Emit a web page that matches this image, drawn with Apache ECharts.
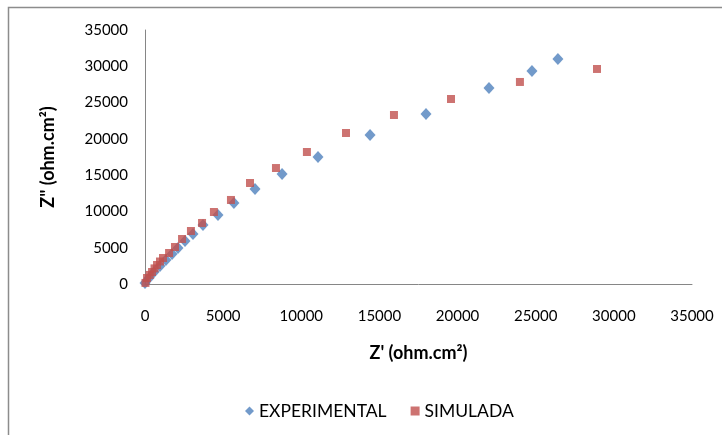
<!DOCTYPE html>
<html>
<head>
<meta charset="utf-8">
<script src="https://cdn.jsdelivr.net/npm/echarts@6/dist/echarts.min.js"></script>
<style>
  html, body { margin: 0; padding: 0; background: #fff; }
  #chart { width: 722px; height: 435px; }
</style>
</head>
<body>
<div id="chart"></div>
<script>
// Nyquist plot: Z' vs Z'' (ohm.cm²)
const experimentalZre = [0, 260, 580, 960, 1340, 1730, 2110, 2560, 3070, 3710, 4670, 5690, 7040, 8770, 11070, 14400, 17980, 22010, 24760, 26420];
const experimentalZim = [140, 830, 1650, 2480, 3310, 4130, 4960, 5930, 6890, 8130, 9510, 11160, 13090, 15160, 17500, 20530, 23430, 27010, 29350, 31000];

const simuladaZre = [30, 130, 300, 450, 610, 770, 960, 1150, 1540, 1920, 2370, 2940, 3650, 4410, 5500, 6720, 8380, 10360, 12860, 15930, 19580, 23990, 28920];
const simuladaZim = [150, 830, 1250, 1650, 2150, 2620, 3100, 3580, 4270, 5100, 6200, 7300, 8410, 9920, 11580, 13920, 15980, 18190, 20810, 23290, 25490, 27840, 29630];

const axisTicks = { min: 0, max: 35000, interval: 5000 };

const pairs = (xs, ys) => xs.map((x, i) => [x, ys[i]]);

const fontFamily = 'Lato, "Open Sans", sans-serif';
const axisGrey = '#868686';
const plainNumber = v => String(v);

const chart = echarts.init(document.getElementById('chart'));
chart.setOption({
  animation: false,
  backgroundColor: '#fff',
  graphic: [{
    type: 'rect',
    shape: { x: 8.5, y: 7.5, width: 740, height: 460 },
    style: { fill: 'none', stroke: '#8c8c8c', lineWidth: 1.5 },
    silent: true
  }],
  grid: { left: 145, right: 30, top: 30, bottom: 151, containLabel: false },
  xAxis: {
    type: 'value',
    min: axisTicks.min, max: axisTicks.max, interval: axisTicks.interval,
    name: "Z' (ohm.cm²)",
    nameLocation: 'middle',
    nameGap: 60,
    nameTextStyle: { fontFamily, fontSize: 18, fontWeight: 'bold', color: '#000' },
    axisLine: { show: true, lineStyle: { color: axisGrey, width: 1 } },
    axisTick: { show: false },
    splitLine: { show: false },
    axisLabel: { fontFamily, fontSize: 15, color: '#000', margin: 25, formatter: plainNumber }
  },
  yAxis: {
    type: 'value',
    min: axisTicks.min, max: axisTicks.max, interval: axisTicks.interval,
    name: 'Z" (ohm.cm²)',
    nameLocation: 'middle',
    nameGap: 88,
    nameRotate: 90,
    nameTextStyle: { fontFamily, fontSize: 18, fontWeight: 'bold', color: '#000' },
    axisLine: { show: true, lineStyle: { color: axisGrey, width: 1 } },
    axisTick: { show: false },
    splitLine: { show: false },
    axisLabel: { fontFamily, fontSize: 15, color: '#000', margin: 17, formatter: plainNumber }
  },
  legend: {
    bottom: 10,
    left: 240,
    itemGap: 24,
    itemWidth: 9,
    itemHeight: 9,
    textStyle: { fontFamily, fontSize: 17.5, color: '#000' },
    data: [
      { name: 'EXPERIMENTAL', icon: 'diamond', itemStyle: { color: '#4F81BD' } },
      { name: 'SIMULADA', icon: 'rect', itemStyle: { color: '#C0504D' } }
    ]
  },
  series: [
    {
      name: 'EXPERIMENTAL',
      type: 'scatter',
      symbol: 'diamond',
      symbolSize: [11, 12],
      itemStyle: { color: '#4F81BD' },
      data: pairs(experimentalZre, experimentalZim),
      z: 2
    },
    {
      name: 'SIMULADA',
      type: 'scatter',
      symbol: 'rect',
      symbolSize: 8,
      itemStyle: { color: '#C0504D' },
      data: pairs(simuladaZre, simuladaZim),
      z: 3
    }
  ]
});
</script>
</body>
</html>
